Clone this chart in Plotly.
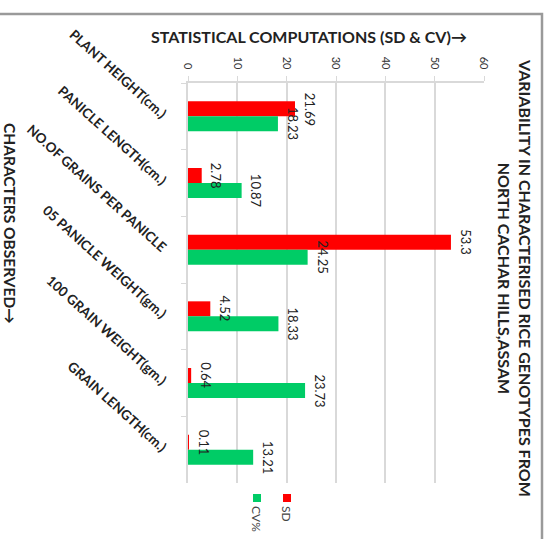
import plotly.graph_objects as go

# Characters observed and their statistical computations
characters = [
    "PLANT HEIGHT(cm.)",
    "PANICLE LENGTH(cm.)",
    "NO.OF GRAINS PER PANICLE",
    "05 PANICLE WEIGHT(gm.)",
    "100 GRAIN WEIGHT(gm.)",
    "GRAIN LENGTH(cm.)",
]
sd_values = [21.69, 2.78, 53.3, 4.52, 0.64, 0.11]
cv_values = [18.23, 10.87, 24.25, 18.33, 23.73, 13.21]
value_ticks = [0, 10, 20, 30, 40, 50, 60]

W, H = 551, 539
L, R, T, B = 188, 484, 83, 483  # plot area edges in pixels

FONT = "Lato"
RED = "#ff0000"
GREEN = "#00cc66"
GRID = "#d9d9d9"
BARGAP = 0.55


def px(x):
    return (x - L) / (R - L)


def py(y):
    return (B - y) / (B - T)


fig = go.Figure()
for name, vals, color in [("SD", sd_values, RED), ("CV%", cv_values, GREEN)]:
    fig.add_trace(go.Bar(
        name=name, y=characters, x=vals, orientation="h",
        marker=dict(color=color, line=dict(width=0)),
    ))

fig.update_layout(
    width=W, height=H,
    margin=dict(l=L, r=W - R, t=T, b=H - B),
    paper_bgcolor="white", plot_bgcolor="white",
    barmode="group", bargap=BARGAP, bargroupgap=0,
    showlegend=False,
    font=dict(family=FONT, color="#222222"),
    xaxis=dict(
        range=[0, 60], side="top", tickvals=value_ticks,
        tickangle=90, tickfont=dict(size=11, color="#333333"),
        showgrid=True, gridcolor=GRID, gridwidth=1.5,
        showline=True, linecolor=GRID, linewidth=1.5,
        ticks="outside", ticklen=5, tickcolor=GRID,
        ticklabelstandoff=3, zeroline=False, fixedrange=True,
    ),
    yaxis=dict(
        autorange="reversed", tickangle=42,
        tickfont=dict(size=13.5, color="#222222", weight="bold"),
        showline=True, linecolor=GRID, linewidth=1.5,
        ticks="outside", ticklen=5, tickcolor=GRID,
        tickson="boundaries", ticklabelstandoff=18,
        showgrid=False, fixedrange=True,
    ),
)

# Value labels beside each bar end, drawn above all bars
band_px = (B - T) / len(characters)
half_offset = (1 - BARGAP) / 4 * band_px
for vals, shift in [(sd_values, half_offset), (cv_values, -half_offset)]:
    for cat, v in zip(characters, vals):
        fig.add_annotation(
            xref="x", yref="y", x=v, y=cat, text=str(v), showarrow=False,
            textangle=90, xanchor="left", yanchor="middle",
            xshift=5, yshift=shift,
            font=dict(family=FONT, size=13, color="#222222"),
        )

annotations = [
    dict(text="STATISTICAL COMPUTATIONS (SD & CV)→", x=px(309), y=py(36),
         font=dict(size=16, weight="bold", color="#222222")),
    dict(text="CHARACTERS OBSERVED→", x=px(10), y=py(223), textangle=90,
         font=dict(size=15.5, weight="bold", color="#222222")),
    dict(text="VARIABILITY IN CHARACTERISED RICE GENOTYPES FROM<br>"
              "<span style='line-height:1.6'>NORTH CACHAR HILLS,ASSAM</span>",
         x=px(515), y=py(278), textangle=90,
         font=dict(size=16, weight="bold", color="#222222")),
    dict(text="SD", x=px(287), y=py(504), textangle=90, yanchor="top",
         font=dict(size=12, color="#444444")),
    dict(text="CV%", x=px(257), y=py(504), textangle=90, yanchor="top",
         font=dict(size=12, color="#444444")),
]
for a in annotations:
    a.setdefault("xanchor", "center")
    a.setdefault("yanchor", "middle")
    fig.add_annotation(xref="paper", yref="paper", showarrow=False, **a)

# Legend keys
for color, cx in [(RED, 287), (GREEN, 257)]:
    fig.add_shape(type="rect", xref="paper", yref="paper",
                  x0=px(cx - 4), x1=px(cx + 4), y0=py(494), y1=py(502),
                  fillcolor=color, line=dict(width=0))

# Chart area frame: only its top and right edges lie on the page
fig.add_shape(type="rect", xref="paper", yref="paper",
              x0=px(-20), x1=px(542), y0=py(14), y1=py(560),
              fillcolor="rgba(0,0,0,0)", line=dict(color="#9a9a9a", width=2.5),
              layer="above")

fig.write_html("out.html")
